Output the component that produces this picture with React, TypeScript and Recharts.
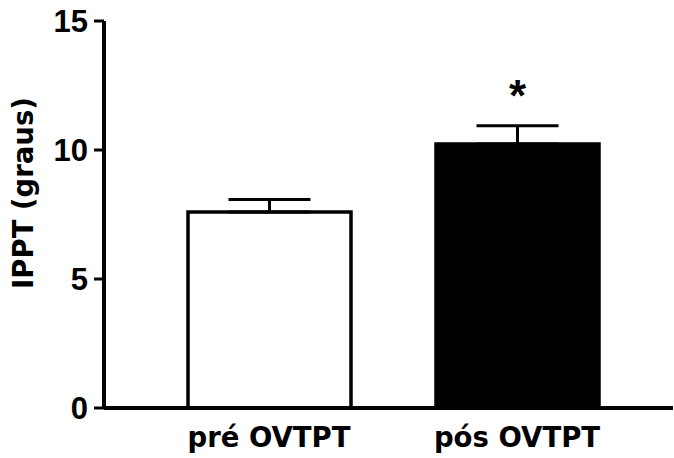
import { BarChart, Bar, XAxis, YAxis, ErrorBar, Cell, LabelList, Label } from "recharts";

const categories = ["pré OVTPT", "pós OVTPT"];
const means = [7.6, 10.23];
const sem = [0.48, 0.71];
const marks = ["", "*"];
const yTicks = [0, 5, 10, 15];

const data = categories.map((name, i) => ({
  name,
  value: means[i],
  err: [0, sem[i]],
  mark: marks[i],
}));

const fills = ["#ffffff", "#000000"];
const LABEL_FONT = "'DejaVu Sans', Verdana, sans-serif";
const TICK_FONT = "'Liberation Sans', Arial, sans-serif";

function XTick({ x, y, payload }: any) {
  return (
    <text x={x} y={y + 31} textAnchor="middle" fontFamily={LABEL_FONT} fontWeight="bold" fontSize={27.5} fill="#000">
      {payload.value}
    </text>
  );
}

function YTick({ x, y, payload }: any) {
  return (
    <text x={x} y={y} dy="0.36em" textAnchor="end" fontFamily={TICK_FONT} fontWeight="bold" fontSize={31} fill="#000">
      {payload.value}
    </text>
  );
}

function StarLabel({ x, y, width, value }: any) {
  if (!value) return null;
  return (
    <text x={x + width / 2} y={y - 33} textAnchor="middle" fontFamily={TICK_FONT} fontWeight="bold" fontSize={44} fill="#000">
      {value}
    </text>
  );
}

function YTitle({ viewBox }: any) {
  const cx = viewBox.x + 33;
  const cy = viewBox.y + 172;
  return (
    <text transform={`translate(${cx},${cy}) rotate(-90)`} textAnchor="middle" fontFamily={LABEL_FONT} fontWeight="bold" fontSize={27.5} fill="#000">
      IPPT (graus)
    </text>
  );
}

export default function App() {
  return (
    <div style={{ position: "absolute", left: 0, top: 0, background: "#fff" }}>
      <BarChart width={674} height={458} data={data} margin={{ top: 21, right: 1, left: 0, bottom: 0 }}>
        <XAxis
          dataKey="name"
          height={50}
          axisLine={{ stroke: "#000", strokeWidth: 4 }}
          tickLine={false}
          tick={<XTick />}
          padding={{ left: 41, right: 32 }}
        />
        <YAxis
          width={104}
          domain={[0, 15]}
          ticks={yTicks}
          axisLine={{ stroke: "#000", strokeWidth: 4 }}
          tickLine={{ stroke: "#000", strokeWidth: 3 }}
          tickSize={10}
          tickMargin={6}
          tick={<YTick />}
        >
          <Label content={<YTitle />} />
        </YAxis>
        <Bar dataKey="value" barSize={163} stroke="#000" strokeWidth={3.5} isAnimationActive={false}>
          {data.map((d, i) => (
            <Cell key={d.name} fill={fills[i]} />
          ))}
          <ErrorBar dataKey="err" width={41} stroke="#000" strokeWidth={3} direction="y" isAnimationActive={false} />
          <LabelList dataKey="mark" content={<StarLabel />} />
        </Bar>
      </BarChart>
    </div>
  );
}
